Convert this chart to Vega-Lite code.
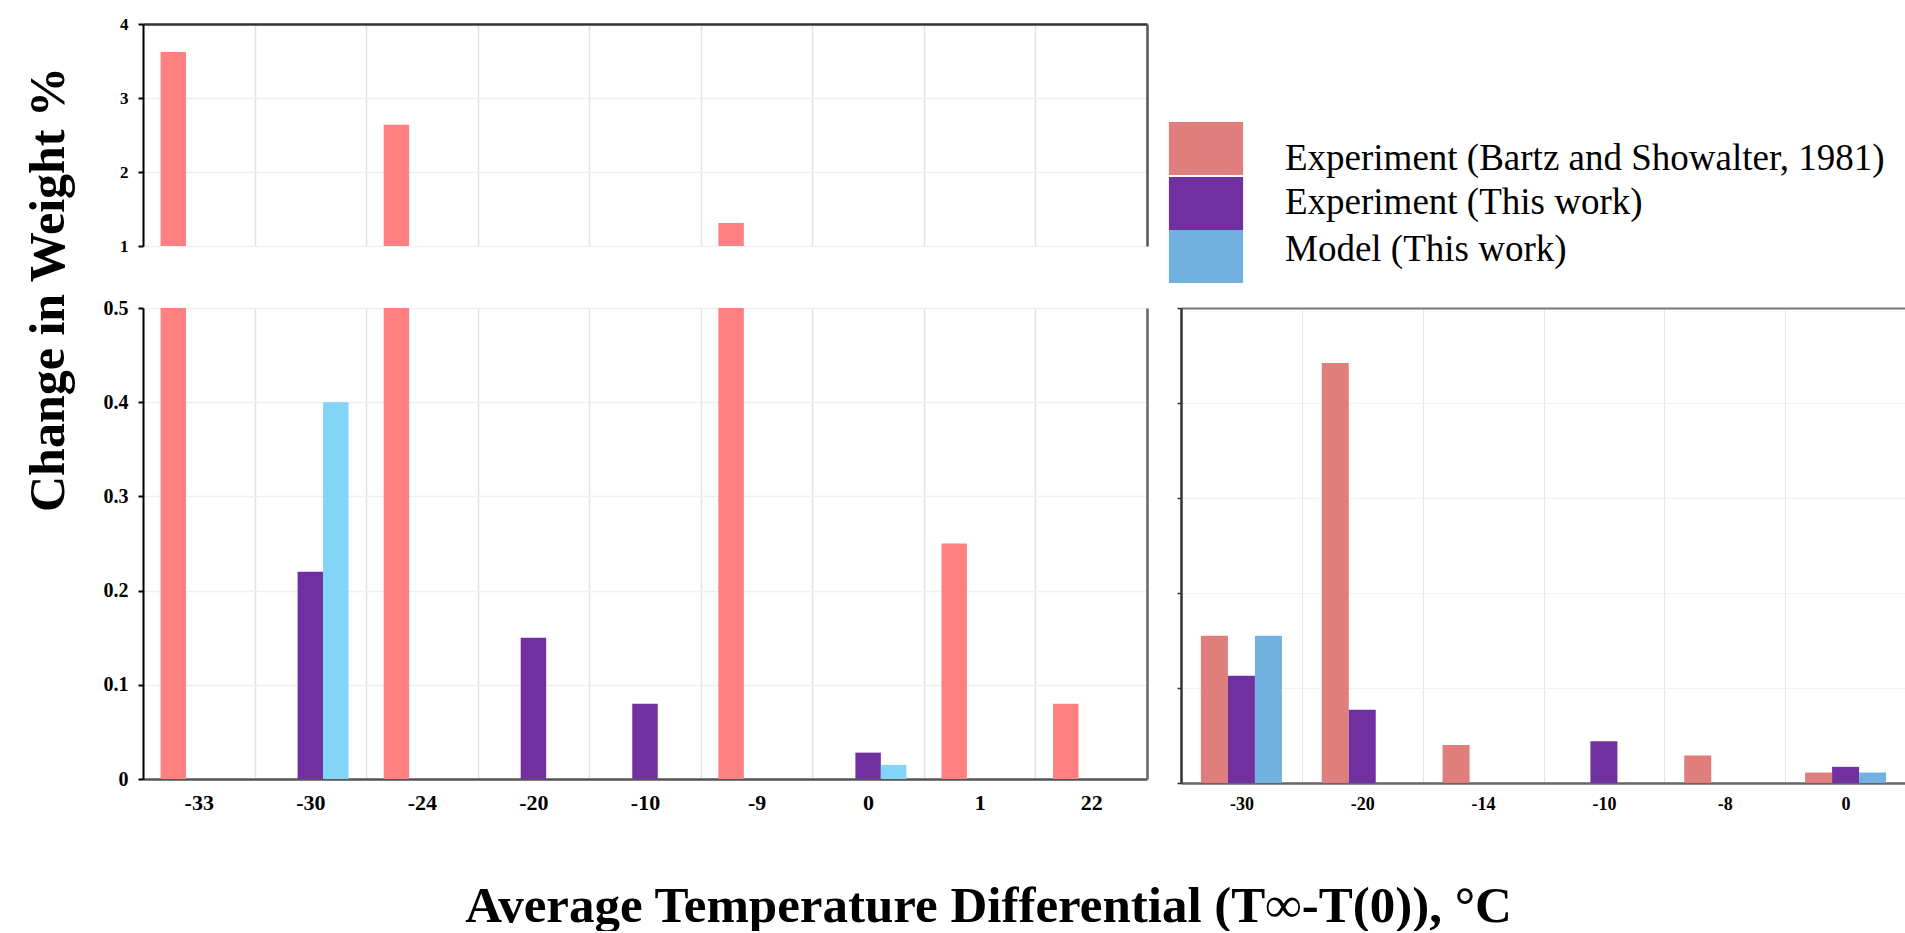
{
  "$schema": "https://vega.github.io/schema/vega-lite/v6.json",
  "padding": {"left": 22, "top": 15, "right": 0, "bottom": 0},
  "background": "white",
  "config": {
    "view": {"stroke": null},
    "font": "Liberation Serif",
    "axis": {"labelFont": "Liberation Serif", "titleFont": "Liberation Serif", "labelColor": "#000", "titleColor": "#000", "labelFontWeight": "bold", "titleFontWeight": "bold"},
    "legend": {"labelFont": "Liberation Serif"}
  },
  "datasets": {
    "left": [
      {"cat": "-33", "series": "Experiment (Bartz and Showalter, 1981)", "value": 3.62},
      {"cat": "-30", "series": "Experiment (This work)", "value": 0.22},
      {"cat": "-30", "series": "Model (This work)", "value": 0.40},
      {"cat": "-24", "series": "Experiment (Bartz and Showalter, 1981)", "value": 2.64},
      {"cat": "-20", "series": "Experiment (This work)", "value": 0.15},
      {"cat": "-10", "series": "Experiment (This work)", "value": 0.08},
      {"cat": "-9", "series": "Experiment (Bartz and Showalter, 1981)", "value": 1.31},
      {"cat": "0", "series": "Experiment (This work)", "value": 0.028},
      {"cat": "0", "series": "Model (This work)", "value": 0.015},
      {"cat": "1", "series": "Experiment (Bartz and Showalter, 1981)", "value": 0.25},
      {"cat": "22", "series": "Experiment (Bartz and Showalter, 1981)", "value": 0.08}
    ],
    "right": [
      {"cat": "-30", "series": "Experiment (Bartz and Showalter, 1981)", "value": 0.155},
      {"cat": "-30", "series": "Experiment (This work)", "value": 0.113},
      {"cat": "-30", "series": "Model (This work)", "value": 0.155},
      {"cat": "-20", "series": "Experiment (Bartz and Showalter, 1981)", "value": 0.442},
      {"cat": "-20", "series": "Experiment (This work)", "value": 0.077},
      {"cat": "-14", "series": "Experiment (Bartz and Showalter, 1981)", "value": 0.04},
      {"cat": "-10", "series": "Experiment (This work)", "value": 0.044},
      {"cat": "-8", "series": "Experiment (Bartz and Showalter, 1981)", "value": 0.029},
      {"cat": "0", "series": "Experiment (Bartz and Showalter, 1981)", "value": 0.011},
      {"cat": "0", "series": "Experiment (This work)", "value": 0.017},
      {"cat": "0", "series": "Model (This work)", "value": 0.011}
    ]
  },
  "spacing": 62,
  "bounds": "flush",
  "resolve": {"scale": {"color": "independent", "xOffset": "independent", "x": "independent", "y": "independent"}, "legend": {"color": "independent"}},
  "vconcat": [
    {
      "width": 1004,
      "height": 222,
      "data": {"name": "left"},
      "transform": [{"filter": "datum.value > 1"}],
      "layer": [
        {
          "mark": {"type": "bar", "clip": true},
          "encoding": {
            "x": {"field": "cat", "type": "ordinal",
              "scale": {"domain": ["-33", "-30", "-24", "-20", "-10", "-9", "0", "1", "22"], "paddingInner": 0, "paddingOuter": 0},
              "axis": {"orient": "top", "title": null, "labels": false, "ticks": false, "tickSize": 0, "domain": true, "domainColor": "#333", "domainWidth": 2.5, "grid": true, "gridColor": "#E2E2E2", "gridWidth": 1.5, "tickBand": "extent"}},
            "xOffset": {"field": "series", "type": "nominal",
              "scale": {"domain": ["Experiment (Bartz and Showalter, 1981)", "Experiment (This work)", "Model (This work)"], "paddingOuter": 0.69, "paddingInner": 0}},
            "y": {"field": "value", "type": "quantitative", "scale": {"domain": [1, 4]},
              "axis": {"title": null, "values": [1, 2, 3, 4], "format": "d", "grid": true, "gridColor": "#F0F0F0", "gridWidth": 1.5, "domainColor": "#000", "domainWidth": 2, "tickColor": "#000", "tickWidth": 2, "tickSize": 5, "labelFontSize": 17, "labelPadding": 10}},
            "color": {"field": "series", "type": "nominal",
              "scale": {"domain": ["Experiment (Bartz and Showalter, 1981)", "Experiment (This work)", "Model (This work)"], "range": ["#FF8080", "#7030A0", "#82D5F7"]},
              "legend": null}
          }
        },
        {
          "mark": {"type": "bar", "clip": true, "opacity": 0},
          "encoding": {
            "x": {"field": "cat", "type": "ordinal", "scale": {"domain": ["-33", "-30", "-24", "-20", "-10", "-9", "0", "1", "22"], "paddingInner": 0, "paddingOuter": 0}, "axis": null},
            "y": {"field": "value", "type": "quantitative",
              "axis": {"orient": "right", "title": null, "labels": false, "ticks": false, "grid": false, "domainColor": "#555", "domainWidth": 2.5}}
          }
        }
      ],
      "resolve": {"axis": {"x": "independent", "y": "independent"}}
    },
    {
      "spacing": 34,
      "bounds": "flush",
      "resolve": {"scale": {"color": "independent", "xOffset": "independent", "x": "independent", "y": "independent"}, "legend": {"color": "independent"}},
      "hconcat": [
        {
          "width": 1004,
          "height": 471,
          "data": {"name": "left"},
          "layer": [
            {
              "mark": {"type": "bar", "clip": true},
              "encoding": {
                "x": {"field": "cat", "type": "ordinal",
                  "scale": {"domain": ["-33", "-30", "-24", "-20", "-10", "-9", "0", "1", "22"], "paddingInner": 0, "paddingOuter": 0},
                  "axis": {"orient": "bottom", "title": "Average Temperature Differential (T∞-T(0)), °C", "titleFontSize": 51, "titleX": 845, "titleY": 142, "titleAlign": "center", "titleBaseline": "alphabetic", "labelFontSize": 22, "labelAngle": 0, "labelPadding": 13, "ticks": false, "tickSize": 0, "domainColor": "#555", "domainWidth": 2.5, "grid": true, "gridColor": "#E2E2E2", "gridWidth": 1.5, "tickBand": "extent"}},
                "xOffset": {"field": "series", "type": "nominal",
                  "scale": {"domain": ["Experiment (Bartz and Showalter, 1981)", "Experiment (This work)", "Model (This work)"], "paddingOuter": 0.69, "paddingInner": 0}},
                "y": {"field": "value", "type": "quantitative", "scale": {"domain": [0, 0.5]},
                  "axis": {"title": "Change in Weight %", "titleFontSize": 50, "titleX": -95, "titleY": -19, "titleAngle": 270, "titleAlign": "center", "titleBaseline": "middle", "values": [0, 0.1, 0.2, 0.3, 0.4, 0.5], "format": "~g", "grid": true, "gridColor": "#F0F0F0", "gridWidth": 1.5, "domainColor": "#000", "domainWidth": 2, "tickColor": "#000", "tickWidth": 2, "tickSize": 5, "labelFontSize": 20, "labelPadding": 10}},
                "color": {"field": "series", "type": "nominal",
                  "scale": {"domain": ["Experiment (Bartz and Showalter, 1981)", "Experiment (This work)", "Model (This work)"], "range": ["#FF8080", "#7030A0", "#82D5F7"]},
                  "legend": null}
              }
            },
            {
              "mark": {"type": "bar", "clip": true, "opacity": 0},
              "encoding": {
                "x": {"field": "cat", "type": "ordinal", "scale": {"domain": ["-33", "-30", "-24", "-20", "-10", "-9", "0", "1", "22"], "paddingInner": 0, "paddingOuter": 0}, "axis": null},
                "y": {"field": "value", "type": "quantitative",
                  "axis": {"orient": "right", "title": null, "labels": false, "ticks": false, "grid": false, "domainColor": "#666", "domainWidth": 2.5}}
              }
            }
          ],
          "resolve": {"axis": {"x": "independent", "y": "independent"}}
        },
        {
          "width": 725,
          "height": 475,
          "data": {"name": "right"},
          "layer": [
            {
              "mark": {"type": "bar", "clip": true},
              "encoding": {
                "x": {"field": "cat", "type": "ordinal",
                  "scale": {"domain": ["-30", "-20", "-14", "-10", "-8", "0"], "paddingInner": 0, "paddingOuter": 0},
                  "axis": {"title": null, "labelFontSize": 18, "labelAngle": 0, "labelPadding": 12, "ticks": false, "tickSize": 0, "domainColor": "#666", "domainWidth": 2.5, "grid": true, "gridColor": "#E6E6E6", "gridWidth": 1, "tickBand": "extent"}},
                "xOffset": {"field": "series", "type": "nominal",
                  "scale": {"domain": ["Experiment (Bartz and Showalter, 1981)", "Experiment (This work)", "Model (This work)"], "paddingOuter": 0.737, "paddingInner": 0}},
                "y": {"field": "value", "type": "quantitative", "scale": {"domain": [0, 0.5]},
                  "axis": {"title": null, "labels": false, "values": [0, 0.1, 0.2, 0.3, 0.4, 0.5], "ticks": true, "tickSize": 4, "tickColor": "#333", "tickWidth": 1.5, "domainColor": "#333", "domainWidth": 2.5, "grid": true, "gridColor": "#F2F2F2", "gridWidth": 1}},
                "color": {"field": "series", "type": "nominal",
                  "scale": {"domain": ["Experiment (Bartz and Showalter, 1981)", "Experiment (This work)", "Model (This work)"], "range": ["#E07D7D", "#7030A0", "#72B0E0"]},
                  "legend": {"orient": "none", "legendX": -1.5, "legendY": -186, "title": null, "symbolType": "M-1.4,-1H1.4V1H-1.4Z", "symbolSize": 2809, "symbolStrokeWidth": 0, "symbolOpacity": 1, "labelFontSize": 37, "labelFont": "Liberation Serif", "labelFontWeight": "normal", "labelColor": "#000", "labelOffset": 52.5, "rowPadding": 0, "padding": 0, "labelLimit": 1000,
                    "encode": {"labels": {"update": {"dy": {"signal": "datum.index === 0 ? 10 : (datum.index === 1 ? -1 : -7)"}}}}}}
              }
            },
            {
              "mark": {"type": "bar", "clip": true, "opacity": 0},
              "encoding": {
                "x": {"field": "cat", "type": "ordinal", "scale": {"domain": ["-30", "-20", "-14", "-10", "-8", "0"], "paddingInner": 0, "paddingOuter": 0},
                  "axis": {"orient": "top", "title": null, "labels": false, "ticks": false, "grid": false, "domainColor": "#777", "domainWidth": 2}},
                "y": {"field": "value", "type": "quantitative", "axis": null}
              }
            }
          ],
          "resolve": {"axis": {"x": "independent", "y": "independent"}}
        }
      ]
    }
  ]
}
